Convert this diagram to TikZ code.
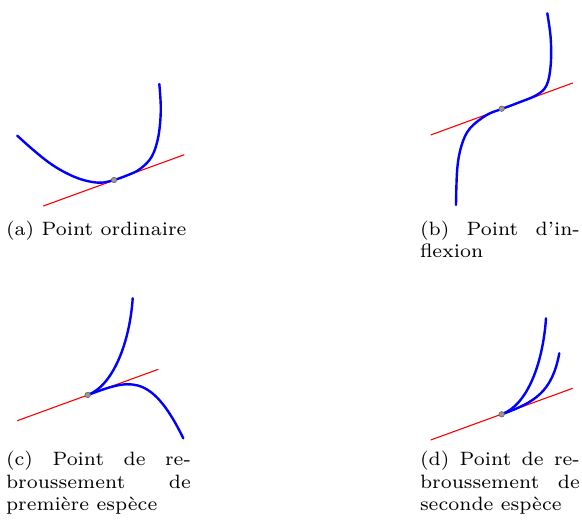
\documentclass[tikz,border=0pt]{standalone}
\begin{document}
\begin{tikzpicture}[x=1pt,y=-1pt,
  curve/.style={blue,line width=2.4pt,line cap=round},
  tangent/.style={red,line width=1.1pt},
  pt/.style={circle,fill=gray!80,draw=black!60,line width=0.6pt,minimum size=5.5pt,inner sep=0pt},
  captext/.style={anchor=base west,inner sep=0pt,outer sep=0pt,scale=2.757,font=\fontsize{7}{9}\selectfont}]
\useasboundingbox (0,0) rectangle (582,522);
% (a)
\draw[tangent] (43.3,206) -- (184.3,154.7);
\draw[curve] plot[smooth,tension=0.6] coordinates {(17.3,135.7) (33.3,150) (50,163.3) (66.7,173.3) (83.3,180) (100,182.7) (114,180) (128,175) (140,169) (151.7,156.7) (158.3,136.7) (160.8,110) (159.3,84)};
\node[pt] (pa) at (114,180) {};
\node[captext] (ca) at (6,235) {(a) Point ordinaire};
% (b)
\draw[tangent] (430.7,135) -- (572.7,83);
\draw[curve] plot[smooth,tension=0.6] coordinates {(456,205) (457.3,168.3) (461.7,145) (470,128.3) (486.7,115) (501.7,109) (516.7,103.3) (536.7,95) (546.7,85) (550.7,65) (550.7,38.3) (547.3,13.3)};
\node[pt] (pb) at (501.7,108.7) {};
\node[captext] (cb1) at (420,235) {\makebox[58pt][s]{(b) Point d’in-}};
\node[captext] (cb2) at (420,257.7) {flexion};
% (c)
\draw[tangent] (17.3,420.7) -- (158.3,369.3);
\coordinate (c0) at (87.7,395);
\draw[curve] (c0) .. controls (112.7,385.9) and (129.7,343) .. (132.7,298.3);
\draw[curve] (c0) .. controls (127.7,380.4) and (150,370) .. (183.3,438.3);
\node[pt] (pc) at (c0) {};
\node[captext] (cc1) at (6,465.5) {\makebox[67.1pt][s]{(c) Point de re-}};
\node[captext] (cc2) at (6,488.2) {\makebox[67.1pt][s]{broussement de}};
\node[captext] (cc3) at (6,510.9) {première espèce};
% (d)
\draw[tangent] (430.7,440) -- (572.7,388.3);
\coordinate (d0) at (501.7,414.3);
\draw[curve] (d0) .. controls (528,404.7) and (543,362) .. (546,318.3);
\draw[curve] (d0) .. controls (535,402.2) and (552,392) .. (559.3,353.3);
\node[pt] (pd) at (d0) {};
\node[captext] (cd1) at (420,465.5) {\makebox[58pt][s]{(d) Point de re-}};
\node[captext] (cd2) at (420,488.2) {\makebox[58pt][s]{broussement de}};
\node[captext] (cd3) at (420,510.9) {seconde espèce};
\end{tikzpicture}
\end{document}
